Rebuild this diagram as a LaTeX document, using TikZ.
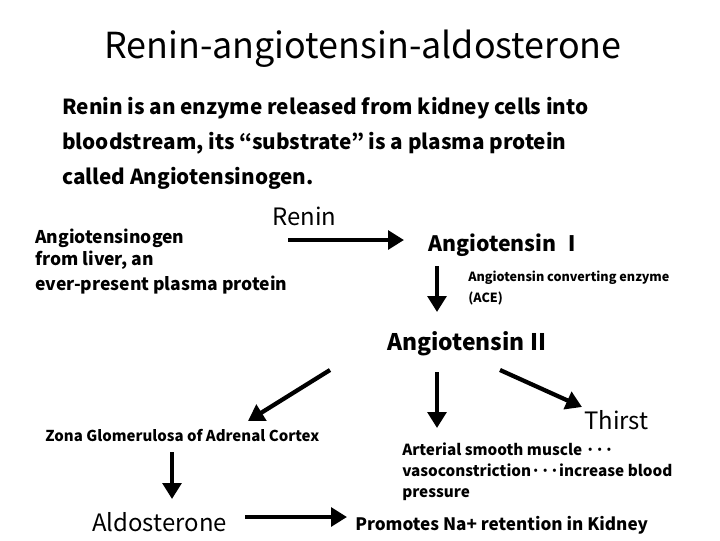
\documentclass[tikz,border=0pt]{standalone}
\usepackage{fontspec}
\setmainfont{Noto Sans CJK JP}
\usetikzlibrary{arrows.meta}
\begin{document}
\begin{tikzpicture}[x=0.02646cm,y=-0.02646cm,
  t/.style={anchor=base west,inner sep=0pt},
  arr/.style={line width=3.2pt,-{Triangle[length=12pt,width=14pt]}}]
\useasboundingbox (0,0) rectangle (720,540);
\node[anchor=base,inner sep=0pt,font=\fontsize{27}{30}\selectfont] (title) at (363,58) {Renin-angiotensin-aldosterone};
\node[t,font=\fontsize{15.6}{18}\bfseries] (p1) at (62,114) {Renin is an enzyme released from kidney cells into};
\node[t,font=\fontsize{15.6}{18}\bfseries] (p2) at (62,149) {bloodstream, its “substrate” is a plasma protein};
\node[t,font=\fontsize{15.6}{18}\bfseries] (p3) at (62,184) {called Angiotensinogen.};
\node[t,font=\fontsize{18}{20}\selectfont] (renin) at (272,225) {Renin};
\node[t,font=\fontsize{13.2}{15}\bfseries] (ag1) at (35,243) {Angiotensinogen};
\node[t,font=\fontsize{13.2}{15}\bfseries] (ag2) at (35,265) {from liver, an};
\node[t,font=\fontsize{13.2}{15}\bfseries] (ag3) at (35,290) {ever-present plasma protein};
\coordinate (a1s) at (288,240); \coordinate (a1e) at (404,240);
\draw[arr] (a1s) -- (a1e);
\node[t,font=\fontsize{16}{19}\bfseries] (ang1) at (428,251) {Angiotensin Ⅰ};
\coordinate (a2s) at (437,266); \coordinate (a2e) at (437,312);
\draw[arr] (a2s) -- (a2e);
\node[t,font=\fontsize{9.5}{11}\bfseries] (ace1) at (468,281) {Angiotensin converting enzyme};
\node[t,font=\fontsize{9.5}{11}\bfseries] (ace2) at (468,302) {(ACE)};
\node[t,font=\fontsize{17.2}{20}\bfseries] (ang2) at (387,350) {Angiotensin II};
\coordinate (b1s) at (330,370); \coordinate (b1e) at (248,421);
\coordinate (b2s) at (437,372); \coordinate (b2e) at (437,428);
\coordinate (b3s) at (500,370); \coordinate (b3e) at (582,407);
\draw[arr] (b1s) -- (b1e);
\draw[arr] (b2s) -- (b2e);
\draw[arr] (b3s) -- (b3e);
\node[t,font=\fontsize{18}{20}\selectfont] (thirst) at (584,429) {Thirst};
\node[t,font=\fontsize{11.3}{13}\bfseries] (zona) at (45,441) {Zona Glomerulosa of Adrenal Cortex};
\node[t,font=\fontsize{11.5}{13}\bfseries] (as1) at (402,455) {Arterial smooth muscle ···};
\node[t,font=\fontsize{11.5}{13}\bfseries] (as2) at (402,476) {vasoconstriction···increase blood};
\node[t,font=\fontsize{11.5}{13}\bfseries] (as3) at (402,497) {pressure};
\coordinate (c1s) at (172,452); \coordinate (c1e) at (172,499);
\draw[arr] (c1s) -- (c1e);
\node[t,font=\fontsize{18}{20}\selectfont] (aldo) at (92,531) {Aldosterone};
\coordinate (d1s) at (245,517); \coordinate (d1e) at (347,517);
\draw[arr] (d1s) -- (d1e);
\node[t,font=\fontsize{12.9}{15}\bfseries] (prom) at (355,530) {Promotes Na+ retention in Kidney};
\end{tikzpicture}
\end{document}
